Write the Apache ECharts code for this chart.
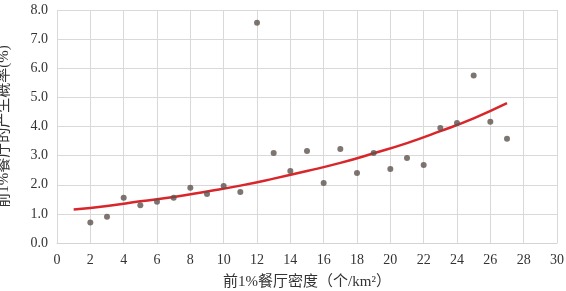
<!DOCTYPE html>
<html>
<head>
<meta charset="utf-8">
<script src="https://cdn.jsdelivr.net/npm/echarts@6/dist/echarts.min.js"></script>
<style>
html, body { margin: 0; padding: 0; background: #fff; }
#main { width: 566px; height: 291px; }
</style>
</head>
<body>
<div id="main"></div>
<script>
// scatter points: density (per km2) and probability (%)
var densityX = [2, 3, 4, 5, 6, 7, 8, 9, 10, 11, 12, 13, 14, 15, 16, 17, 18, 19, 20, 21, 22, 23, 24, 25, 26, 27];
var probY = [0.70, 0.90, 1.55, 1.30, 1.42, 1.55, 1.90, 1.68, 1.96, 1.75, 7.56, 3.09, 2.47, 3.16, 2.06, 3.23, 2.40, 3.09, 2.54, 2.92, 2.68, 3.95, 4.12, 5.75, 4.16, 3.58];
// trend line
var trendX = [1, 3, 5, 7, 9, 11, 13, 15, 17, 19, 21, 23, 25, 27];
var trendY = [1.15, 1.27, 1.43, 1.58, 1.77, 1.97, 2.21, 2.47, 2.75, 3.08, 3.43, 3.84, 4.28, 4.80];

var fontFam = '"Liberation Serif", "Noto Sans CJK SC", serif';

var myChart = echarts.init(document.getElementById('main'));

var scatterData = [];
for (var i = 0; i < densityX.length; i++) {
    scatterData.push([densityX[i], probY[i]]);
}
var trendData = [];
for (var i = 0; i < trendX.length; i++) {
    trendData.push([trendX[i], trendY[i]]);
}

var option = {
    animation: false,
    backgroundColor: '#fff',
    grid: { left: 57, right: 9, top: 10, bottom: 48, outerBoundsMode: 'none' },
    xAxis: {
        type: 'value',
        min: 0, max: 30, interval: 2,
        name: '前1%餐厅密度（个/km²）',
        nameLocation: 'middle',
        nameGap: 32,
        nameTextStyle: { color: '#333', fontSize: 15, fontFamily: fontFam },
        axisLine: { show: true, lineStyle: { color: '#d4d4d4' } },
        axisTick: { show: false },
        axisLabel: { color: '#333', fontSize: 14, fontFamily: fontFam, margin: 10 },
        splitLine: { show: true, lineStyle: { color: '#d9d9d9' } }
    },
    yAxis: {
        type: 'value',
        min: 0, max: 8, interval: 1,
        name: '前1%餐厅的产生概率(%)',
        nameLocation: 'middle',
        nameGap: 45,
        nameTextStyle: { color: '#333', fontSize: 15, fontFamily: fontFam },
        axisLine: { show: false },
        axisTick: { show: false },
        axisLabel: {
            color: '#333', fontSize: 14, fontFamily: fontFam, margin: 9,
            formatter: function(v) { return v.toFixed(1); }
        },
        splitLine: { show: true, lineStyle: { color: '#d9d9d9' } }
    },
    series: [
        {
            type: 'line',
            data: trendData,
            smooth: true,
            showSymbol: false,
            lineStyle: { color: '#d8262b', width: 2.5 },
            z: 2
        },
        {
            type: 'scatter',
            data: scatterData,
            symbolSize: 6,
            itemStyle: { color: '#5e524d' },
            z: 3
        }
    ]
};

myChart.setOption(option);
</script>
</body>
</html>
